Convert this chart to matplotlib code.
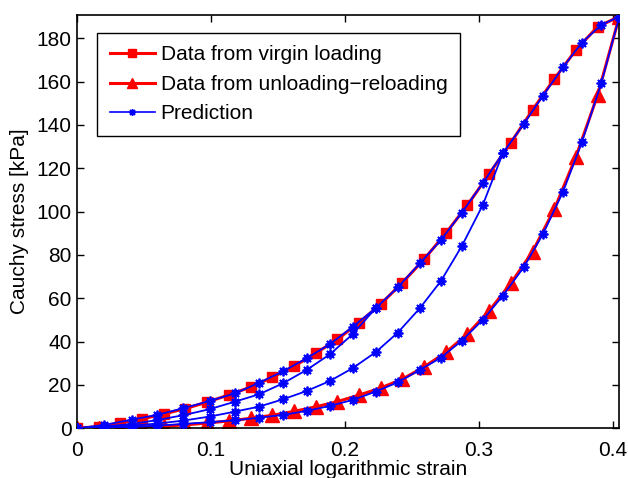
import matplotlib
matplotlib.use('Agg')
import matplotlib.pyplot as plt
from matplotlib.lines import Line2D
import numpy as np

plt.rcParams['font.family'] = ['Liberation Sans', 'DejaVu Sans']

# --- dados medidos (deformação logarítmica, tensão em kPa) ---
strain_data = [0.0, 0.0162, 0.0324, 0.0486, 0.0648, 0.081, 0.0972, 0.1134, 0.1296,
               0.1458, 0.162, 0.1782, 0.1944, 0.2106, 0.2268, 0.243, 0.2592, 0.2754,
               0.2916, 0.3078, 0.324, 0.3402, 0.3564, 0.3726, 0.3888, 0.405]
stress_virgin = [0.0, 0.8, 2.5, 4.3, 6.6, 9.1, 12.1, 15.4, 19.0, 23.5, 28.6, 34.6,
                 41.0, 48.7, 57.3, 67.2, 78.0, 90.0, 103.0, 117.4, 131.8, 146.9,
                 161.2, 174.6, 185.3, 190.0]
stress_unload = [0.0, 0.1, 0.3, 0.6, 1.0, 1.6, 2.4, 3.4, 4.6, 6.0, 7.8, 9.9, 12.3,
                 15.3, 18.6, 22.7, 28.3, 35.0, 43.5, 54.2, 66.9, 81.5, 101.0, 125.3,
                 153.8, 190.0]

# --- previsão do modelo ---
strain_pred = [0.0, 0.02, 0.041, 0.06, 0.079, 0.099, 0.118, 0.136, 0.154, 0.1714,
               0.1888, 0.206, 0.223, 0.2395, 0.256, 0.2718, 0.2873, 0.303, 0.318,
               0.3336, 0.348, 0.363, 0.377, 0.3915, 0.405]
pred_virgin = [0.0, 1.5, 4.0, 6.2, 9.2, 12.6, 16.1, 21.0, 26.3, 32.3, 38.8, 46.9,
               55.4, 65.0, 76.1, 86.9, 99.5, 113.0, 126.9, 140.4, 153.5, 166.6,
               178.0, 186.1, 190.0]
pred_unload = [0.0, 0.2, 0.6, 1.2, 2.0, 2.8, 3.7, 4.9, 6.2, 8.0, 10.3, 13.1, 16.9,
               21.2, 26.9, 32.6, 40.4, 50.0, 61.2, 74.3, 89.7, 109.2, 132.0, 159.2,
               190.0]
pred_reload_a = [0.0, 0.8, 2.0, 3.8, 6.0, 8.8, 12.3, 15.7, 20.8, 26.9, 34.1, 43.5, 55.4]
pred_reload_b = [0.0, 0.4, 1.2, 2.2, 3.5, 5.4, 7.7, 10.0, 13.4, 17.2, 21.8, 27.8,
                 35.1, 44.1, 55.4, 68.0, 84.0, 103.0, 126.9]

fig = plt.figure(figsize=(6.28, 4.78), dpi=100)
ax = fig.add_axes([0.1226, 0.104, 0.8636, 0.8646])

ax.plot(strain_data, stress_virgin, color='red', lw=2.2, marker='s', ms=7.5,
        mec='red', mfc='red', zorder=2)
ax.plot(strain_data, stress_unload, color='red', lw=2.2, marker='^', ms=10,
        mec='red', mfc='red', zorder=2)

estrela = dict(color='blue', lw=1.3, marker=(8, 2, 0), ms=7, mew=1.3, zorder=3)
ax.plot(strain_pred, pred_virgin, **estrela)
ax.plot(strain_pred, pred_unload, **estrela)
ax.plot(strain_pred[:len(pred_reload_a)], pred_reload_a, **estrela)
ax.plot(strain_pred[:len(pred_reload_b)], pred_reload_b, **estrela)

ax.set_xlim(0, 0.405)
ax.set_ylim(0, 190.7)
ax.set_xticks([0, 0.1, 0.2, 0.3, 0.4])
ax.set_xticklabels(['0', '0.1', '0.2', '0.3', '0.4'])
ax.set_yticks(np.arange(0, 181, 20))
ax.tick_params(direction='in', length=5, width=1, top=True, right=True,
               labelsize=15)
ax.tick_params(axis='x', pad=9)
ax.tick_params(axis='y', pad=4)
for s in ax.spines.values():
    s.set_linewidth(1.2)

ax.set_xlabel('Uniaxial logarithmic strain', fontsize=15, labelpad=0.5)
ax.set_ylabel('Cauchy stress [kPa]', fontsize=15, labelpad=5)

# legenda com marcadores menores
handles = [
    Line2D([], [], color='red', lw=2.2, marker='s', ms=5.5, mfc='red', mec='red'),
    Line2D([], [], color='red', lw=2.2, marker='^', ms=7, mfc='red', mec='red'),
    Line2D([], [], color='blue', lw=1.2, marker=(8, 2, 0), ms=5, mew=1.0),
]
labels = ['Data from virgin loading', 'Data from unloading\u2212reloading', 'Prediction']
leg = ax.legend(handles, labels, loc='upper left', bbox_to_anchor=(0.0369, 0.9565),
                borderaxespad=0, fontsize=15, fancybox=False, edgecolor='black',
                framealpha=1, handlelength=2.2, handletextpad=0.25,
                labelspacing=0.5, borderpad=0.6)
leg.get_frame().set_linewidth(1.0)

fig.savefig('out.png', dpi=100)
